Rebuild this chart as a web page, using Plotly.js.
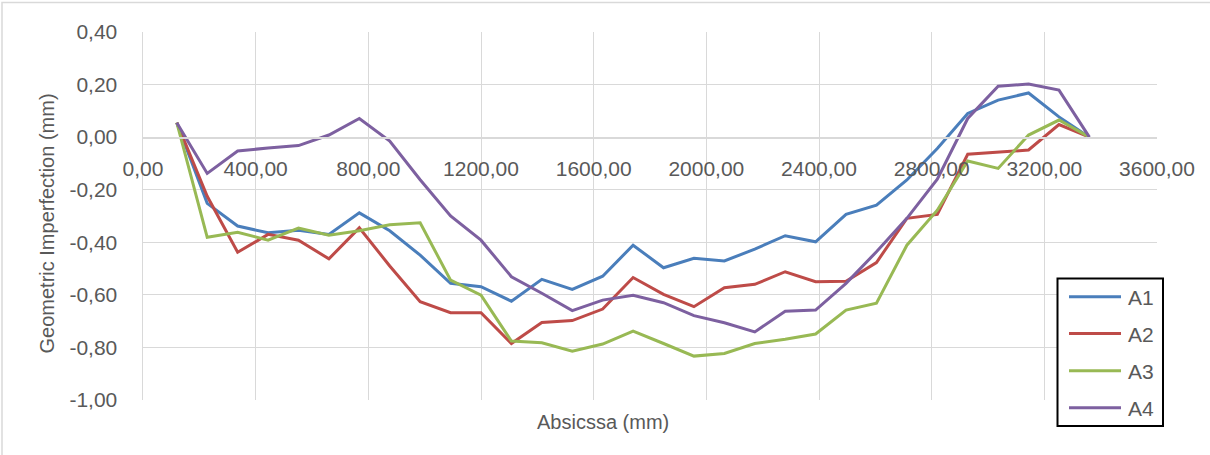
<!DOCTYPE html>
<html>
<head>
<meta charset="utf-8">
<script src="https://cdn.plot.ly/plotly-3.0.1.min.js"></script>
<style>
  html, body { margin: 0; padding: 0; background: #ffffff; }
  #chart { width: 1210px; height: 455px; }
</style>
</head>
<body>
<div id="chart"></div>
<script>
// Measurement stations along the member (mm)
const absc = [120, 228, 336, 444, 552, 660, 768, 876, 984, 1092, 1200, 1308, 1416, 1524, 1632,
              1740, 1848, 1956, 2064, 2172, 2280, 2388, 2496, 2604, 2712, 2820, 2928, 3036, 3144, 3252, 3360];

// Geometric imperfection per line (mm)
const a1 = [0.055, -0.252, -0.338, -0.364, -0.354, -0.370, -0.288, -0.356, -0.449, -0.556, -0.569,
            -0.624, -0.541, -0.579, -0.529, -0.411, -0.497, -0.461, -0.471, -0.426, -0.375, -0.398,
            -0.294, -0.259, -0.163, -0.043, 0.090, 0.141, 0.168, 0.077, 0.000];
const a2 = [0.055, -0.225, -0.438, -0.370, -0.392, -0.463, -0.345, -0.490, -0.626, -0.668, -0.668,
            -0.785, -0.705, -0.698, -0.654, -0.534, -0.598, -0.645, -0.573, -0.560, -0.512, -0.550,
            -0.548, -0.477, -0.309, -0.294, -0.065, -0.056, -0.049, 0.048, 0.000];
const a3 = [0.055, -0.381, -0.362, -0.392, -0.346, -0.373, -0.356, -0.333, -0.326, -0.544, -0.601,
            -0.776, -0.782, -0.814, -0.787, -0.738, -0.785, -0.833, -0.823, -0.785, -0.769, -0.749,
            -0.658, -0.632, -0.411, -0.278, -0.091, -0.119, 0.008, 0.065, 0.000];
const a4 = [0.055, -0.138, -0.053, -0.041, -0.032, 0.008, 0.071, -0.015, -0.162, -0.300, -0.392,
            -0.531, -0.594, -0.660, -0.620, -0.602, -0.630, -0.679, -0.706, -0.741, -0.662, -0.658,
            -0.556, -0.436, -0.309, -0.160, 0.071, 0.194, 0.202, 0.179, 0.000];

const seriesNames = ['A1', 'A2', 'A3', 'A4'];
const seriesValues = [a1, a2, a3, a4];
const seriesColors = ['#4A7EBB', '#BE4B48', '#98B954', '#7D60A0'];

// Axis ticks
const xTickVals = [0, 400, 800, 1200, 1600, 2000, 2400, 2800, 3200, 3600];
const xTickText = ['0,00', '400,00', '800,00', '1200,00', '1600,00', '2000,00', '2400,00', '2800,00', '3200,00', '3600,00'];
const yTickVals = [-1.0, -0.8, -0.6, -0.4, -0.2, 0.0, 0.2, 0.4];
const yTickText = ['-1,00', '-0,80', '-0,60', '-0,40', '-0,20', '0,00', '0,20', '0,40'];

const W = 1210, H = 455;
const M = { l: 143, r: 53, t: 32, b: 55 };
const FONT = 'Liberation Sans, Arial, sans-serif';
const TXT = '#595959';
const GRID = '#D9D9D9';

// pixel -> paper helpers for decorations placed outside the data scale
const px = v => (v - M.l) / (W - M.l - M.r);
const py = v => (H - M.b - v) / (H - M.t - M.b);

const traces = seriesNames.map((name, i) => ({
  type: 'scatter',
  mode: 'lines',
  name: name,
  x: absc,
  y: seriesValues[i],
  line: { color: seriesColors[i], width: 3 },
  showlegend: false
}));

// Boxed legend on the lower right
const legShapes = [{
  type: 'rect', xref: 'paper', yref: 'paper',
  x0: px(1057.5), x1: px(1163), y0: py(278.5), y1: py(426),
  line: { color: '#000000', width: 2 }, fillcolor: '#ffffff', layer: 'above'
}];
const legAnn = [];
const legRows = [296.7, 333.5, 370.7, 407.7];
seriesNames.forEach((name, i) => {
  legShapes.push({
    type: 'line', xref: 'paper', yref: 'paper',
    x0: px(1069), x1: px(1121), y0: py(legRows[i]), y1: py(legRows[i]),
    line: { color: seriesColors[i], width: 3 }, layer: 'above'
  });
  legAnn.push({
    xref: 'paper', yref: 'paper', x: px(1126), y: py(legRows[i] + 1),
    xanchor: 'left', yanchor: 'middle', showarrow: false,
    text: name, font: { family: FONT, size: 21, color: TXT }
  });
});

// Outer chart frame
const frame = {
  type: 'rect', xref: 'paper', yref: 'paper',
  x0: px(2), x1: px(1215), y0: py(2.5), y1: py(462),
  line: { color: GRID, width: 1.5 }, fillcolor: 'rgba(0,0,0,0)', layer: 'below'
};

const layout = {
  width: W, height: H,
  margin: M,
  paper_bgcolor: '#ffffff',
  plot_bgcolor: '#ffffff',
  font: { family: FONT, size: 21, color: TXT },
  xaxis: {
    range: [0, 3600],
    tickmode: 'array', tickvals: xTickVals, ticktext: xTickText,
    showgrid: true, gridcolor: GRID, gridwidth: 1,
    zeroline: false,
    showline: true, linecolor: GRID, linewidth: 1.5,
    anchor: 'free', position: 1 / 1.4,
    ticks: '', ticklabelstandoff: 12,
    tickfont: { family: FONT, size: 21, color: TXT }
  },
  yaxis: {
    range: [-1.0, 0.4],
    tickmode: 'array', tickvals: yTickVals, ticktext: yTickText,
    showgrid: true, gridcolor: GRID, gridwidth: 1,
    zeroline: false,
    showline: true, linecolor: GRID, linewidth: 1.5,
    ticks: '', ticklabelstandoff: 20,
    tickfont: { family: FONT, size: 21, color: TXT }
  },
  shapes: [frame].concat(legShapes),
  annotations: [
    {
      xref: 'paper', yref: 'paper', x: px(603), y: py(421.5),
      xanchor: 'center', yanchor: 'middle', showarrow: false,
      text: 'Absicssa (mm)', font: { family: FONT, size: 20, color: TXT }
    },
    {
      xref: 'paper', yref: 'paper', x: px(46.5), y: py(224),
      xanchor: 'center', yanchor: 'middle', showarrow: false, textangle: -90,
      text: 'Geometric Imperfection (mm)', font: { family: FONT, size: 20, color: TXT }
    }
  ].concat(legAnn)
};

Plotly.newPlot('chart', traces, layout, { displayModeBar: false, staticPlot: true });
</script>
</body>
</html>
